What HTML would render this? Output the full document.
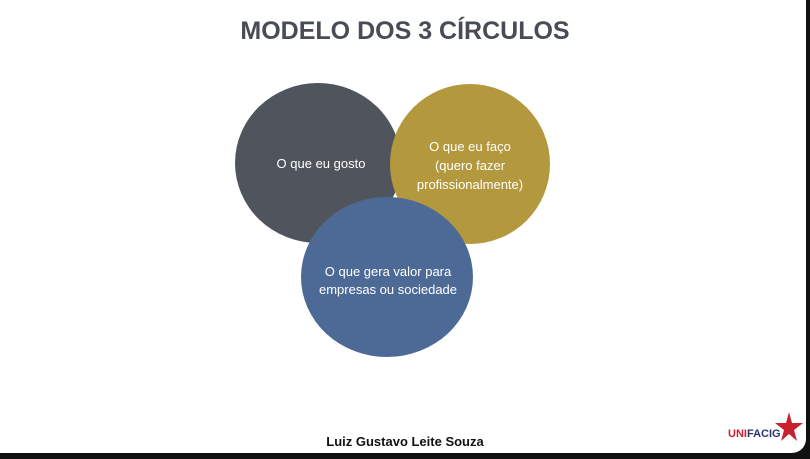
<!DOCTYPE html>
<html><head><meta charset="utf-8"><style>
body{margin:0;width:810px;height:459px;background:#111;overflow:hidden;font-family:"Liberation Sans",sans-serif}
.page{position:absolute;left:0;top:0;width:806px;height:453px;background:#fff;border-radius:0 0 14px 0}
.t{position:absolute;left:0;width:810px;text-align:center}
</style></head><body>
<div class="page"></div>
<svg width="810" height="459" style="position:absolute;left:0;top:0">
<ellipse cx="318" cy="163" rx="83" ry="80" fill="#50555d"/>
<ellipse cx="470" cy="164" rx="80" ry="80" fill="#b4983e"/>
<ellipse cx="387" cy="277" rx="86" ry="80" fill="#4d6a97"/>
<g fill="#fff" font-family="Liberation Sans" font-size="13" text-anchor="middle">
<text x="321" y="168">O que eu gosto</text>
<text x="470" y="151">O que eu faço</text>
<text x="470" y="170">(quero fazer</text>
<text x="470" y="189">profissionalmente)</text>
<text x="388" y="276">O que gera valor para</text>
<text x="388" y="294">empresas ou sociedade</text>
</g>
<text x="405" y="39" text-anchor="middle" font-family="Liberation Sans" font-weight="bold" font-size="25" fill="#474c55">MODELO DOS 3 CÍRCULOS</text>
<text x="405" y="446" text-anchor="middle" font-family="Liberation Sans" font-weight="bold" font-size="13" fill="#111">Luiz Gustavo Leite Souza</text>
<text x="728" y="437" font-family="Liberation Sans" font-weight="bold" font-size="11" fill="#c8202f">UNI<tspan fill="#2a3270">FACIG</tspan></text>
<polygon points="789,412 792,423 803,423 794,430 797,441 789,434 781,441 784,430 775,423 786,423" fill="#c8202f"/>
</svg>
</body></html>
